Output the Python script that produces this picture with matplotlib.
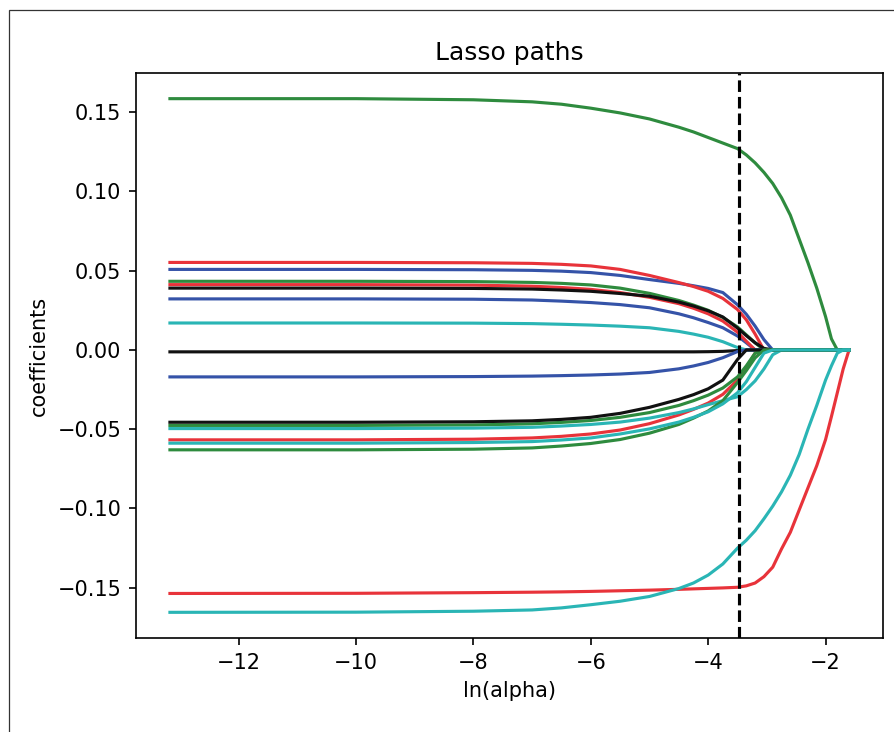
import matplotlib.pyplot as plt
from matplotlib.patches import Rectangle

# ln(alpha) sample points along the regularisation path
ln_alpha = [-13.17, -10.0, -8.0, -7.0, -6.5, -6.0, -5.5, -5.0, -4.5, -4.25, -4.0, -3.75, -3.5, -3.35,
            -3.2, -3.05, -2.9, -2.75, -2.6, -2.45, -2.3, -2.15, -2.0, -1.9, -1.8, -1.7, -1.6]

# coefficient paths (one list per feature)
coef_g1 = [0.1585, 0.1585, 0.1578, 0.1565, 0.1550, 0.1525, 0.1495, 0.1457, 0.1405, 0.1375, 0.1340, 0.1305, 0.1270, 0.1230,
           0.1180, 0.1120, 0.1050, 0.0960, 0.0850, 0.0700, 0.0550, 0.0390, 0.0210, 0.0070, 0.0, 0.0, 0.0]
coef_r1 = [0.0552, 0.0552, 0.0550, 0.0546, 0.0540, 0.0530, 0.0508, 0.0470, 0.0425, 0.0400, 0.0370, 0.0325, 0.0255, 0.0190,
           0.0100, 0.0, 0.0, 0.0, 0.0, 0.0, 0.0, 0.0, 0.0, 0.0, 0.0, 0.0, 0.0]
coef_b1 = [0.0508, 0.0508, 0.0506, 0.0502, 0.0497, 0.0488, 0.0470, 0.0444, 0.0420, 0.0405, 0.0388, 0.0362, 0.0285, 0.0225,
           0.0150, 0.0065, 0.0, 0.0, 0.0, 0.0, 0.0, 0.0, 0.0, 0.0, 0.0, 0.0, 0.0]
coef_g2 = [0.0433, 0.0433, 0.0431, 0.0426, 0.0420, 0.0410, 0.0390, 0.0357, 0.0312, 0.0283, 0.0250, 0.0205, 0.0145, 0.0095,
           0.0045, 0.0, 0.0, 0.0, 0.0, 0.0, 0.0, 0.0, 0.0, 0.0, 0.0, 0.0, 0.0]
coef_r2 = [0.0412, 0.0412, 0.0409, 0.0402, 0.0394, 0.0382, 0.0362, 0.0332, 0.0292, 0.0263, 0.0228, 0.0182, 0.0112, 0.0055,
           0.0, 0.0, 0.0, 0.0, 0.0, 0.0, 0.0, 0.0, 0.0, 0.0, 0.0, 0.0, 0.0]
coef_k1 = [0.0390, 0.0390, 0.0388, 0.0384, 0.0378, 0.0370, 0.0356, 0.0339, 0.0302, 0.0277, 0.0247, 0.0208, 0.0138, 0.0090,
           0.0045, 0.0010, 0.0, 0.0, 0.0, 0.0, 0.0, 0.0, 0.0, 0.0, 0.0, 0.0, 0.0]
coef_b2 = [0.0322, 0.0322, 0.0320, 0.0315, 0.0308, 0.0299, 0.0286, 0.0266, 0.0228, 0.0203, 0.0173, 0.0140, 0.0088, 0.0045,
           0.0, 0.0, 0.0, 0.0, 0.0, 0.0, 0.0, 0.0, 0.0, 0.0, 0.0, 0.0, 0.0]
coef_c1 = [0.0170, 0.0170, 0.0169, 0.0166, 0.0162, 0.0157, 0.0150, 0.0140, 0.0117, 0.0100, 0.0080, 0.0052, 0.0015, 0.0,
           0.0, 0.0, 0.0, 0.0, 0.0, 0.0, 0.0, 0.0, 0.0, 0.0, 0.0, 0.0, 0.0]
coef_k2 = [-0.0012, -0.0012, -0.0012, -0.0012, -0.0012, -0.0012, -0.0012, -0.0012, -0.0012, -0.0012, -0.0011, -0.0009, -0.0004, 0.0,
           0.0, 0.0, 0.0, 0.0, 0.0, 0.0, 0.0, 0.0, 0.0, 0.0, 0.0, 0.0, 0.0]
coef_b3 = [-0.0170, -0.0170, -0.0168, -0.0165, -0.0162, -0.0158, -0.0152, -0.0142, -0.0119, -0.0101, -0.0079, -0.0049, -0.0010, 0.0,
           0.0, 0.0, 0.0, 0.0, 0.0, 0.0, 0.0, 0.0, 0.0, 0.0, 0.0, 0.0, 0.0]
coef_k3 = [-0.0456, -0.0456, -0.0453, -0.0447, -0.0438, -0.0425, -0.0400, -0.0362, -0.0312, -0.0282, -0.0245, -0.0190, -0.0060, 0.0,
           0.0, 0.0, 0.0, 0.0, 0.0, 0.0, 0.0, 0.0, 0.0, 0.0, 0.0, 0.0, 0.0]
coef_g3 = [-0.0476, -0.0476, -0.0473, -0.0466, -0.0457, -0.0445, -0.0425, -0.0395, -0.0350, -0.0320, -0.0285, -0.0240, -0.0170, -0.0100,
           -0.0020, 0.0, 0.0, 0.0, 0.0, 0.0, 0.0, 0.0, 0.0, 0.0, 0.0, 0.0, 0.0]
coef_c2 = [-0.0496, -0.0496, -0.0493, -0.0488, -0.0480, -0.0470, -0.0455, -0.0430, -0.0395, -0.0372, -0.0345, -0.0320, -0.0295, -0.0250,
           -0.0195, -0.0120, -0.0030, 0.0, 0.0, 0.0, 0.0, 0.0, 0.0, 0.0, 0.0, 0.0, 0.0]
coef_r3 = [-0.0567, -0.0567, -0.0563, -0.0555, -0.0545, -0.0530, -0.0505, -0.0465, -0.0410, -0.0375, -0.0335, -0.0280, -0.0190, -0.0110,
           -0.0020, 0.0, 0.0, 0.0, 0.0, 0.0, 0.0, 0.0, 0.0, 0.0, 0.0, 0.0, 0.0]
coef_c3 = [-0.0588, -0.0588, -0.0584, -0.0578, -0.0568, -0.0555, -0.0530, -0.0498, -0.0455, -0.0425, -0.0390, -0.0340, -0.0270, -0.0200,
           -0.0110, -0.0020, 0.0, 0.0, 0.0, 0.0, 0.0, 0.0, 0.0, 0.0, 0.0, 0.0, 0.0]
coef_g4 = [-0.0630, -0.0630, -0.0626, -0.0618, -0.0606, -0.0590, -0.0565, -0.0525, -0.0470, -0.0430, -0.0385, -0.0320, -0.0205, -0.0130,
           -0.0050, 0.0, 0.0, 0.0, 0.0, 0.0, 0.0, 0.0, 0.0, 0.0, 0.0, 0.0, 0.0]
coef_r4 = [-0.1536, -0.1535, -0.1531, -0.1528, -0.1526, -0.1523, -0.1519, -0.1515, -0.1510, -0.1507, -0.1504, -0.1501, -0.1497, -0.1488,
           -0.1470, -0.1430, -0.1370, -0.1255, -0.1150, -0.1010, -0.0870, -0.0730, -0.0565, -0.0420, -0.0270, -0.0120, 0.0]
coef_c4 = [-0.1655, -0.1654, -0.1648, -0.1640, -0.1627, -0.1607, -0.1585, -0.1555, -0.1505, -0.1470, -0.1420, -0.1350, -0.1250, -0.1200,
           -0.1140, -0.1065, -0.0985, -0.0895, -0.0790, -0.0660, -0.0500, -0.0350, -0.0190, -0.0100, -0.0020, 0.0, 0.0]

blue, red, green, cyan, black = '#3553a8', '#e8333a', '#2e8b3e', '#2ab5b5', '#111111'

paths = [(coef_b1, blue), (coef_r1, red), (coef_g1, green), (coef_k2, black), (coef_b2, blue),
         (coef_r2, red), (coef_g2, green), (coef_c1, cyan), (coef_k1, black), (coef_b3, blue),
         (coef_r3, red), (coef_g3, green), (coef_c2, cyan), (coef_k3, black), (coef_r4, red),
         (coef_g4, green), (coef_c3, cyan), (coef_c4, cyan)]

alpha_cv = -3.48  # chosen ln(alpha)

fig = plt.figure(figsize=(5.96, 4.88), dpi=150)
ax = fig.add_axes([0.1521, 0.1284, 0.8356, 0.7719])

for coefs, col in paths:
    ax.plot(ln_alpha, coefs, color=col)

ax.axvline(alpha_cv, color='k', linestyle='--')

ax.set_xlabel('ln(alpha)')
ax.set_ylabel('coefficients')
ax.set_title('Lasso paths')

# frame of the surrounding window (cut off at right and bottom)
fig.patches.append(Rectangle((9 / 894, -0.1), 1.2, 1.1 - 10 / 732, transform=fig.transFigure,
                             fill=False, edgecolor='#333333', linewidth=0.6))

fig.savefig('out.png', dpi=150)
